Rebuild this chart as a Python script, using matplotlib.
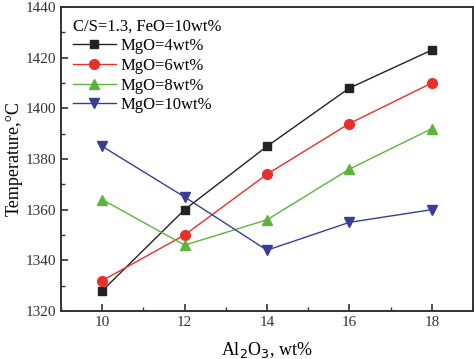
import matplotlib.pyplot as plt
from matplotlib.ticker import MultipleLocator

plt.rcParams['font.family'] = 'Liberation Serif'

# Al2O3 content, wt%
al2o3 = [10, 12, 14, 16, 18]
mgo4 = [1328, 1360, 1385, 1408, 1423]
mgo6 = [1332, 1350, 1374, 1394, 1410]
mgo8 = [1364, 1346, 1356, 1376, 1392]
mgo10 = [1385, 1365, 1344, 1355, 1360]

fig = plt.figure(figsize=(4.74, 3.59), dpi=100)
ax = fig.add_axes([61/474, 48/359, 412/474, 304/359])

ax.plot(al2o3, mgo4, color='#222222', marker='s', ms=6, lw=1, label='MgO=4wt%')
ax.plot(al2o3, mgo6, color='#e8302a', marker='o', ms=7, lw=1, label='MgO=6wt%')
ax.plot(al2o3, mgo8, color='#5db33b', marker='^', ms=7, lw=1, label='MgO=8wt%')
ax.plot(al2o3, mgo10, color='#3a3d96', marker='v', ms=7, lw=1, label='MgO=10wt%')

ax.set_xlim(9, 19)
ax.set_ylim(1320, 1440)
ax.xaxis.set_major_locator(MultipleLocator(2))
ax.xaxis.set_minor_locator(MultipleLocator(1))
ax.yaxis.set_major_locator(MultipleLocator(20))
ax.yaxis.set_minor_locator(MultipleLocator(10))
ax.tick_params(which='both', direction='in', labelsize=11, colors='#333333')
ax.tick_params(which='major', length=5, width=1.2)
ax.tick_params(which='minor', length=3, width=1)
for s in ax.spines.values():
    s.set_linewidth(1.4)
    s.set_color('#333333')

ax.set_xlabel('Al$_2$O$_3$, wt%', fontsize=13, labelpad=8)
ax.set_ylabel('Temperature,°C', fontsize=13, labelpad=2)

leg = ax.legend(title='C/S=1.3, FeO=10wt%', loc='upper left', frameon=False,
                fontsize=12, title_fontsize=12, handlelength=2.6,
                borderaxespad=0.3, labelspacing=0.22, handletextpad=0.3)
leg._legend_box.align = 'left'

fig.savefig('out.png', dpi=100)
